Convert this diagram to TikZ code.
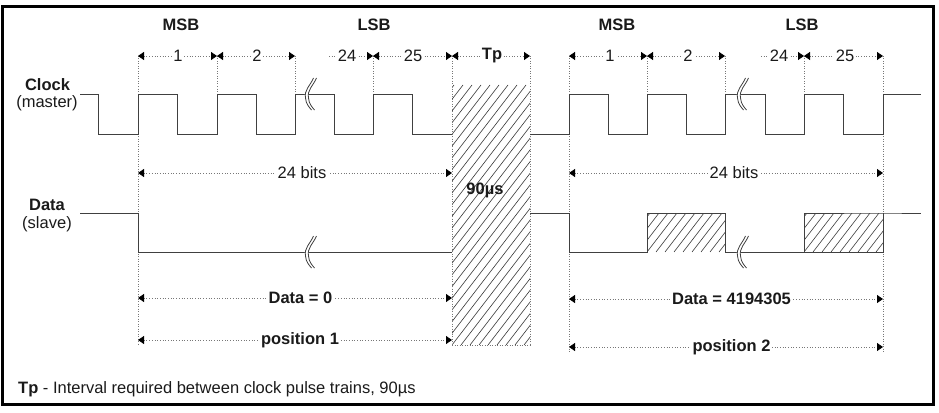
\documentclass[tikz,border=0pt]{standalone}
\usepackage{fontspec}
\setmainfont{Liberation Sans}
\usetikzlibrary{arrows.meta}
\definecolor{wavecol}{HTML}{404040}
\definecolor{dotcol}{HTML}{777777}
\definecolor{txtcol}{HTML}{1A1A1A}
\definecolor{hatchcol}{HTML}{3A3A3A}
\tikzset{
  wave/.style={draw=wavecol, line width=1pt, line join=miter},
  tipL/.tip={Triangle[length=6pt,width=8pt,color=black]},
  dimline/.style={draw=dotcol, line width=0.9pt, dash pattern=on 0.9pt off 1.8pt},
  vdot/.style={draw=dotcol, line width=0.8pt, dash pattern=on 0.8pt off 1.7pt},
  lbl/.style={font=\fontsize{16.5}{19}\selectfont, text=txtcol, fill=white, inner sep=1.5pt},
  blbl/.style={lbl, font=\fontsize{16.5}{19}\selectfont\bfseries},
  plain/.style={font=\fontsize{16.5}{19}\selectfont, text=txtcol, inner sep=0pt},
  hatchline/.style={draw=hatchcol, line width=0.6pt},
}
\newcommand\brkmark[2]{%
  \begin{scope}[shift={(#1,#2)}]
    \draw[white, line width=4pt] (5,-16) .. controls (1.5,-8) and (-4.5,-4) .. (-3,4) .. controls (-2.5,10) and (0.5,13) .. (3,16);
    \draw[wavecol, line width=0.8pt] (3.5,-16) .. controls (0,-8) and (-6,-4) .. (-4.5,4) .. controls (-4,10) and (-1,13) .. (1.5,16);
    \draw[wavecol, line width=0.8pt] (6.5,-16) .. controls (3,-8) and (-3,-4) .. (-1.5,4) .. controls (-1,10) and (2,13) .. (4.5,16);
  \end{scope}}
\newcommand\hatchbox[4]{%
  \begin{scope}
    \clip (#1,#2) rectangle (#3,#4);
    \foreach \hx in {-216,-207,...,90} \draw[hatchline] (#1+\hx,#4) -- ++(200,-260);
  \end{scope}}
\begin{document}
\begin{tikzpicture}[x=1pt,y=-1pt]
\useasboundingbox (0,0) rectangle (939,412);
% frame
\draw[line width=3pt, black] (2,6.5) rectangle (933.5,404.5);

% Tp hatched region
\hatchbox{452}{58}{530}{345}
\draw[vdot] (452,345) -- (530,345);

% vertical dotted guide lines
\foreach \gx/\gy in {138/345, 217/94, 295/94, 373/94, 452/345, 530/345,
                     569/352, 647/94, 725/94, 804/94, 883/352}
  \draw[vdot] (\gx,56) -- (\gx,\gy);

% clock waveform
\draw[wave] (80,94) -- (98,94) -- (98,134) -- (138,134) -- (138,94) -- (177,94) -- (177,134)
  -- (217,134) -- (217,94) -- (256,94) -- (256,134) -- (295,134) -- (295,94) -- (334,94)
  -- (334,134) -- (373,134) -- (373,94) -- (412,94) -- (412,134) -- (452,134);
\draw[wave] (530,134) -- (569,134) -- (569,94) -- (608,94) -- (608,134) -- (647,134) -- (647,94)
  -- (686,94) -- (686,134) -- (725,134) -- (725,94) -- (765,94) -- (765,134) -- (804,134)
  -- (804,94) -- (843,94) -- (843,134) -- (883,134) -- (883,94) -- (921,94);

% data waveform
\draw[wave] (80,213) -- (138,213) -- (138,252) -- (452,252);
\hatchbox{647}{213}{725}{252}
\hatchbox{804}{213}{883}{252}
\draw[wave] (530,213) -- (569,213) -- (569,252) -- (647,252) -- (647,213) -- (725,213) -- (725,252)
  -- (804,252) -- (804,213) -- (883,213) -- (921,213);
\draw[wave] (883,213) -- (883,252) -- (804,252);

% breaks
\brkmark{310}{94}
\brkmark{742}{94}
\brkmark{310}{252}
\brkmark{742}{252}

% dimension coordinates
\foreach \nm/\cx in {a/138, b/217, c/295, d/373, e/452, f/530, g/569, h/647, i/725, j/804, k/883, ls/329, rs/761}
  \coordinate (t\nm) at (\cx,56);

% bit arrows
\draw[dimline, tipL-tipL] (ta) -- (tb);
\draw[dimline, tipL-tipL] (tb) -- (tc);
\draw[dimline, -tipL] (tls) -- (td);
\draw[dimline, tipL-tipL] (td) -- (te);
\draw[dimline, tipL-tipL] (te) -- (tf);
\draw[dimline, tipL-tipL] (tg) -- (th);
\draw[dimline, tipL-tipL] (th) -- (ti);
\draw[dimline, -tipL] (trs) -- (tj);
\draw[dimline, tipL-tipL] (tj) -- (tk);

% span arrows
\coordinate (bL1) at (138,173); \coordinate (bL2) at (452,173);
\coordinate (bR1) at (569,173); \coordinate (bR2) at (883,173);
\coordinate (dL1) at (138,298); \coordinate (dL2) at (452,298);
\coordinate (dR1) at (569,299); \coordinate (dR2) at (883,299);
\coordinate (pL1) at (138,340); \coordinate (pL2) at (452,340);
\coordinate (pR1) at (569,347); \coordinate (pR2) at (883,347);
\draw[dimline, tipL-tipL] (bL1) -- (bL2);
\draw[dimline, tipL-tipL] (bR1) -- (bR2);
\draw[dimline, tipL-tipL] (dL1) -- (dL2);
\draw[dimline, tipL-tipL] (dR1) -- (dR2);
\draw[dimline, tipL-tipL] (pL1) -- (pL2);
\draw[dimline, tipL-tipL] (pR1) -- (pR2);

% labels
\node[blbl, fill=none] (msbL) at (181,25) {MSB};
\node[blbl, fill=none] (lsbL) at (374,25) {LSB};
\node[blbl, fill=none] (msbR) at (617,25) {MSB};
\node[blbl, fill=none] (lsbR) at (802,25) {LSB};

\node[lbl] (n1L) at (178,56) {1};
\node[lbl] (n2L) at (257,56) {2};
\node[lbl] (n24L) at (347,56) {24};
\node[lbl] (n25L) at (413,56) {25};
\node[blbl, inner sep=1pt] (ntp) at (492,56) {Tp};
\node[lbl] (n1R) at (610,56) {1};
\node[lbl] (n2R) at (688,56) {2};
\node[lbl] (n24R) at (779,56) {24};
\node[lbl] (n25R) at (845,56) {25};

\node[blbl, fill=none, inner sep=0pt] (clk) at (47.5,85) {Clock};
\node[plain] (mst) at (47,103) {(master)};
\node[blbl, fill=none, inner sep=0pt] (dat) at (47,205) {Data};
\node[plain] (slv) at (47,224) {(slave)};

\node[lbl] (bitsL) at (302,173) {24 bits};
\node[lbl] (bitsR) at (734,173) {24 bits};
\node[blbl, fill=none, inner sep=0pt] (us) at (485,190) {90µs};
\node[blbl] (d0) at (300.5,298) {Data = 0};
\node[blbl] (d1) at (731.5,299) {Data = 4194305};
\node[blbl] (p1) at (300,340) {position 1};
\node[blbl] (p2) at (731.5,347) {position 2};

\node[plain, anchor=base west] (foot) at (18,393) {\textbf{Tp} - Interval required between clock pulse trains, 90µs};
\end{tikzpicture}
\end{document}
